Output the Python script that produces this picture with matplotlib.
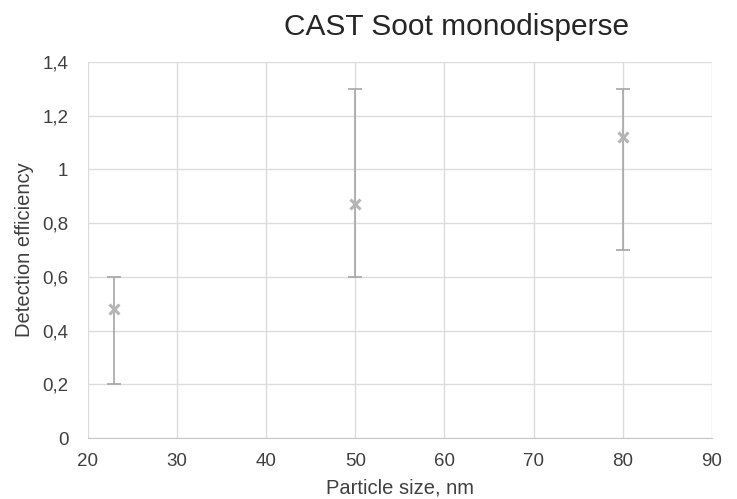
import matplotlib.pyplot as plt
from matplotlib.ticker import FuncFormatter

plt.rcParams['font.family'] = ['Liberation Sans', 'DejaVu Sans']

particle_size = [23, 50, 80]
efficiency = [0.48, 0.87, 1.12]
err_low = [0.20, 0.60, 0.70]
err_high = [0.60, 1.30, 1.30]

yerr = [[e - lo for e, lo in zip(efficiency, err_low)],
        [hi - e for e, hi in zip(efficiency, err_high)]]

fig, ax = plt.subplots(figsize=(7.37, 4.99), dpi=100)
fig.subplots_adjust(left=0.119, right=0.966, bottom=0.122, top=0.876)

ax.errorbar(particle_size, efficiency, yerr=yerr, fmt='none', ecolor='#a6a6a6',
            elinewidth=1.2, capsize=5, capthick=1.2, zorder=3)
ax.plot(particle_size, efficiency, linestyle='none', marker='x', markersize=7,
        markeredgewidth=2.2, color='#b5b5b5', zorder=4)

ax.set_xlim(20, 90)
ax.set_ylim(0, 1.4)
ax.set_xticks(range(20, 91, 10))
ax.set_yticks([0, 0.2, 0.4, 0.6, 0.8, 1.0, 1.2, 1.4])
ax.yaxis.set_major_formatter(FuncFormatter(lambda v, p: ('%g' % round(v, 1)).replace('.', ',')))

ax.grid(True, color='#dcdcdc', linewidth=1)
ax.set_axisbelow(True)
for s in ['top', 'right', 'left']:
    ax.spines[s].set_visible(False)
ax.spines['bottom'].set_color('#c8c8c8')
ax.tick_params(length=0, labelsize=13.5, colors='#404040')
ax.tick_params(axis='x', pad=11)
ax.tick_params(axis='y', pad=14)

fig.text(0.619, 0.946, 'CAST Soot monodisperse', fontsize=21.5, color='#262626',
         ha='center', va='center')
ax.set_xlabel('Particle size, nm', fontsize=14.5, color='#404040', va='center')
ax.xaxis.set_label_coords(0.5, -0.133)
ax.set_ylabel('Detection efficiency', fontsize=14.5, color='#404040', va='center')
ax.yaxis.set_label_coords(-0.101, 0.5)

plt.savefig('out.png')
